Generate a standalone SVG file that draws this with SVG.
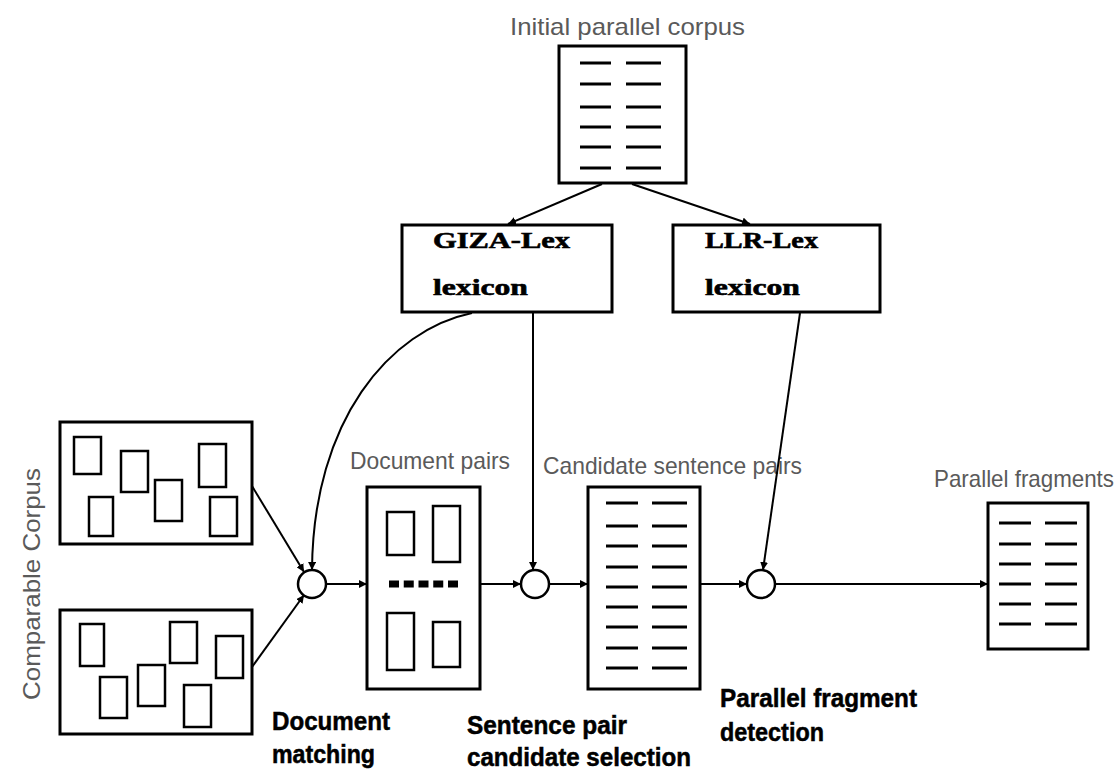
<svg xmlns="http://www.w3.org/2000/svg" width="1120" height="773" viewBox="0 0 1120 773">
  <style>
    .box { fill: #fff; stroke: #000; stroke-width: 3; }
    .doc { fill: none; stroke: #000; stroke-width: 2.5; }
    .row { stroke: #000; stroke-width: 3; }
    .join { fill: #fff; stroke: #000; stroke-width: 2.5; }
    .edge { fill: none; stroke: #000; stroke-width: 2; marker-end: url(#head); }
    .label { font-family: "Liberation Sans", Arial, sans-serif; font-size: 24px; fill: #5a5a5a; }
    .step { font-family: "Liberation Sans", Arial, sans-serif; font-size: 25px; font-weight: bold; fill: #000; stroke: #000; stroke-width: 0.5; }
    .lex { font-family: "Liberation Serif", "Times New Roman", serif; font-size: 23px; font-weight: bold; fill: #000; stroke: #000; stroke-width: 0.6; }
  </style>
  <defs>
    <marker id="head" markerUnits="userSpaceOnUse" markerWidth="9" markerHeight="8" refX="8" refY="4" orient="auto">
      <path d="M0,0 L8,4 L0,8 z" fill="#000"/>
    </marker>
  </defs>
  <rect width="1120" height="773" fill="#fff"/>

  <!-- seed corpus -->
  <g id="initial-corpus">
    <text class="label" x="510" y="35" textLength="235" lengthAdjust="spacingAndGlyphs">Initial parallel corpus</text>
    <rect class="box" x="559" y="46" width="127" height="137"/>
    <g class="row">
      <line x1="580" y1="63" x2="611" y2="63"/><line x1="626" y1="63" x2="661" y2="63"/>
      <line x1="580" y1="84" x2="611" y2="84"/><line x1="626" y1="84" x2="661" y2="84"/>
      <line x1="580" y1="107" x2="611" y2="107"/><line x1="626" y1="107" x2="661" y2="107"/>
      <line x1="580" y1="127" x2="611" y2="127"/><line x1="626" y1="127" x2="661" y2="127"/>
      <line x1="580" y1="147" x2="611" y2="147"/><line x1="626" y1="147" x2="661" y2="147"/>
      <line x1="580" y1="168" x2="611" y2="168"/><line x1="626" y1="168" x2="661" y2="168"/>
    </g>
  </g>

  <!-- lexicons -->
  <g id="giza-lex">
    <rect class="box" x="402" y="225" width="210" height="87"/>
    <text class="lex" x="433" y="248" textLength="137" lengthAdjust="spacingAndGlyphs">GIZA-Lex</text>
    <text class="lex" x="433" y="295" textLength="95" lengthAdjust="spacingAndGlyphs">lexicon</text>
  </g>
  <g id="llr-lex">
    <rect class="box" x="673" y="225" width="207" height="87"/>
    <text class="lex" x="705" y="248" textLength="113" lengthAdjust="spacingAndGlyphs">LLR-Lex</text>
    <text class="lex" x="705" y="295" textLength="95" lengthAdjust="spacingAndGlyphs">lexicon</text>
  </g>

  <!-- comparable corpus -->
  <g id="comparable-corpus">
    <text class="label" transform="translate(40,584) rotate(-90)" x="0" y="0" text-anchor="middle" textLength="232" lengthAdjust="spacingAndGlyphs">Comparable Corpus</text>
    <rect class="box" x="60" y="422" width="192" height="122"/>
    <rect class="doc" x="74" y="437" width="27" height="37"/>
    <rect class="doc" x="121" y="451" width="27" height="41"/>
    <rect class="doc" x="155" y="480" width="27" height="41"/>
    <rect class="doc" x="199" y="444" width="27" height="43"/>
    <rect class="doc" x="89" y="497" width="24" height="39"/>
    <rect class="doc" x="210" y="497" width="27" height="39"/>
    <rect class="box" x="60" y="610" width="192" height="124"/>
    <rect class="doc" x="80" y="624" width="24" height="42"/>
    <rect class="doc" x="170" y="622" width="27" height="41"/>
    <rect class="doc" x="216" y="636" width="27" height="42"/>
    <rect class="doc" x="100" y="677" width="27" height="41"/>
    <rect class="doc" x="138" y="665" width="27" height="41"/>
    <rect class="doc" x="184" y="685" width="27" height="42"/>
  </g>

  <!-- processing steps -->
  <g id="step-document-matching">
    <circle class="join" cx="312" cy="584" r="14"/>
    <text class="step" x="272" y="730" textLength="118" lengthAdjust="spacingAndGlyphs">Document</text>
    <text class="step" x="272" y="763" textLength="103" lengthAdjust="spacingAndGlyphs">matching</text>
  </g>
  <g id="step-sentence-selection">
    <circle class="join" cx="535" cy="584" r="14"/>
    <text class="step" x="467" y="734" textLength="160" lengthAdjust="spacingAndGlyphs">Sentence pair</text>
    <text class="step" x="467" y="766" textLength="224" lengthAdjust="spacingAndGlyphs">candidate selection</text>
  </g>
  <g id="step-fragment-detection">
    <circle class="join" cx="761" cy="584" r="14"/>
    <text class="step" x="720" y="707" textLength="197" lengthAdjust="spacingAndGlyphs">Parallel fragment</text>
    <text class="step" x="720" y="741" textLength="104" lengthAdjust="spacingAndGlyphs">detection</text>
  </g>

  <!-- intermediate data -->
  <g id="document-pairs">
    <text class="label" x="350" y="469" textLength="160" lengthAdjust="spacingAndGlyphs">Document pairs</text>
    <rect class="box" x="367" y="487" width="113" height="202"/>
    <rect class="doc" x="387" y="512" width="27" height="43"/>
    <rect class="doc" x="433" y="506" width="27" height="56"/>
    <line x1="389" y1="584" x2="459" y2="584" stroke="#000" stroke-width="7" stroke-dasharray="10,4.75"/>
    <rect class="doc" x="387" y="613" width="27" height="57"/>
    <rect class="doc" x="433" y="622" width="27" height="45"/>
  </g>
  <g id="candidate-pairs">
    <text class="label" x="543" y="474" textLength="259" lengthAdjust="spacingAndGlyphs">Candidate sentence pairs</text>
    <rect class="box" x="588" y="487" width="112" height="202"/>
    <g class="row">
      <line x1="606" y1="503" x2="638" y2="503"/><line x1="652" y1="503" x2="687" y2="503"/>
      <line x1="606" y1="526" x2="638" y2="526"/><line x1="652" y1="526" x2="687" y2="526"/>
      <line x1="606" y1="546" x2="638" y2="546"/><line x1="652" y1="546" x2="687" y2="546"/>
      <line x1="606" y1="567" x2="638" y2="567"/><line x1="652" y1="567" x2="687" y2="567"/>
      <line x1="606" y1="587" x2="638" y2="587"/><line x1="652" y1="587" x2="687" y2="587"/>
      <line x1="606" y1="607" x2="638" y2="607"/><line x1="652" y1="607" x2="687" y2="607"/>
      <line x1="606" y1="627" x2="638" y2="627"/><line x1="652" y1="627" x2="687" y2="627"/>
      <line x1="606" y1="648" x2="638" y2="648"/><line x1="652" y1="648" x2="687" y2="648"/>
      <line x1="606" y1="668" x2="638" y2="668"/><line x1="652" y1="668" x2="687" y2="668"/>
    </g>
  </g>
  <g id="parallel-fragments">
    <text class="label" x="934" y="487" textLength="180" lengthAdjust="spacingAndGlyphs">Parallel fragments</text>
    <rect class="box" x="988" y="503" width="100" height="146"/>
    <g class="row">
      <line x1="999" y1="523" x2="1031" y2="523"/><line x1="1045" y1="523" x2="1077" y2="523"/>
      <line x1="999" y1="544" x2="1031" y2="544"/><line x1="1045" y1="544" x2="1077" y2="544"/>
      <line x1="999" y1="564" x2="1031" y2="564"/><line x1="1045" y1="564" x2="1077" y2="564"/>
      <line x1="999" y1="584" x2="1031" y2="584"/><line x1="1045" y1="584" x2="1077" y2="584"/>
      <line x1="999" y1="604" x2="1031" y2="604"/><line x1="1045" y1="604" x2="1077" y2="604"/>
      <line x1="999" y1="624" x2="1031" y2="624"/><line x1="1045" y1="624" x2="1077" y2="624"/>
    </g>
  </g>

  <!-- connectors -->
  <g id="connectors">
    <path class="edge" d="M602,184 L508,224"/>
    <path class="edge" d="M632,184 L750,224"/>
    <path class="edge" d="M472,313 C390,330 313,420 312,570"/>
    <path class="edge" d="M533,313 L533,570"/>
    <path class="edge" d="M800,313 L763,570"/>
    <path class="edge" d="M252,486 L304,572"/>
    <path class="edge" d="M252,667 L304,595"/>
    <path class="edge" d="M326,584 L367,584"/>
    <path class="edge" d="M480,584 L521,584"/>
    <path class="edge" d="M549,584 L588,584"/>
    <path class="edge" d="M700,584 L747,584"/>
    <path class="edge" d="M775,584 L988,584"/>
  </g>
</svg>
